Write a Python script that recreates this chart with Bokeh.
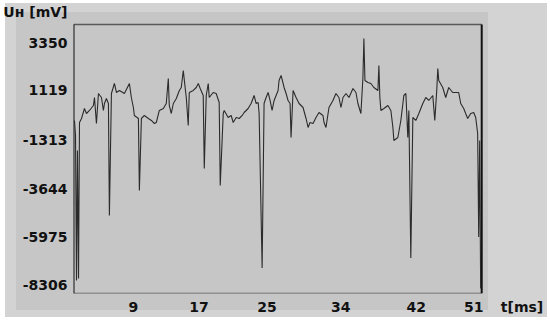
from bokeh.plotting import figure
from bokeh.models import FixedTicker, Range1d
from bokeh.embed import file_html
from bokeh.resources import INLINE

# time [ms]
t_ms = [1.73, 1.86, 1.98, 2.10, 2.23, 2.35, 2.60, 2.96, 3.21, 3.58, 4.07, 4.20, 4.44, 4.69, 5.06,
        5.30, 5.43, 5.67, 5.92, 6.04, 6.29, 6.66, 6.91, 7.28, 7.89, 8.51, 8.75, 9.00, 9.12, 9.62,
        9.74, 9.99, 10.35, 10.85, 11.22, 11.59, 11.83, 12.20, 12.70, 13.06, 13.31, 13.43, 13.68,
        13.93, 14.30, 14.67, 14.91, 15.16, 15.40, 15.53, 15.77, 15.90, 16.39, 16.76, 17.01, 17.25,
        17.62, 17.75, 17.99, 18.24, 18.36, 18.85, 19.22, 19.59, 19.72, 20.09, 20.21, 20.70, 21.07,
        21.32, 21.69, 22.06, 22.43, 22.67, 23.16, 23.53, 23.90, 24.15, 24.40, 24.52, 24.89, 25.13,
        25.38, 25.63, 25.87, 26.12, 26.37, 26.86, 26.98, 27.23, 27.48, 27.60, 27.85, 28.09, 28.34,
        28.46, 28.71, 29.08, 29.45, 29.94, 30.31, 30.56, 30.80, 31.17, 31.54, 31.91, 32.40, 32.53,
        32.77, 33.14, 33.63, 34.00, 34.37, 34.62, 34.87, 35.24, 35.61, 36.10, 36.47, 36.71, 37.08,
        37.33, 37.45, 37.58, 37.95, 38.31, 38.68, 39.18, 39.30, 39.42, 39.55, 39.92, 40.41, 40.78,
        41.03, 41.15, 41.64, 42.01, 42.38, 42.63, 42.87, 43.00, 43.24, 43.49, 43.86, 44.23, 44.72,
        45.09, 45.46, 45.95, 46.20, 46.44, 46.57, 46.69, 47.18, 47.55, 47.92, 48.41, 48.78, 49.15,
        49.40, 49.77, 50.01, 50.26, 50.63, 51.00, 51.25, 51.49, 51.62, 51.74, 51.86]

# Hall voltage U_H [mV]
u_mv = [-361, -1084, -8073, -1807, -7977, -458, -265, 217, -24, 121, 362, 747, -506, 940, 747,
        121, 458, 699, 458, -4940, 940, 1422, 988, 1085, 940, 1422, 747, 265, -120, -265,
        -3735, -265, -120, -265, -361, -506, -458, 121, 217, 458, 1663, 362, -24, 458,
        699, 1085, 1229, 2049, 1181, 747, -602, 988, 1085, 1229, 1422, 1181,
        844, -2675, 844, 1422, 747, 988, 940, 506, -3494, -24, 121, -217, -120,
        -458, -217, -265, -120, 24, 217, 458, 844, 458, 506, -24, -7475, 458,
        747, 988, 603, 121, 603, 1085, 1567, 1808, 1422, 1229, 940, 603, 458,
        -1181, 1085, 747, 458, 265, -265, -699, -458, -506, -217, 24, -120, -458,
        -699, 265, 603, 940, 747, 265, 747, 940, 747, 1181, 988, 458, -24,
        1711, 3591, 1567, 1470, 1422, 1229, 1085, 2290, 747, 121, 217, 362, 121,
        -699, -1325, -1181, -361, 844, 940, -1181, 121, -6993, -217, -361, -24, 458,
        747, 603, 844, -361, 1085, 2145, 1567, 1229, 747, 1229, 988, 988, 988,
        458, 217, -24, -265, -24, 24, -217, -988, -5981, -1325, -8459]

# axis ticks and titles (the titles sit on the tick-label lines, as in the original)
y_ticks = [3350, 1119, -1313, -3644, -5975, -8306]
y_tick_labels = ["3350", "1119", "-1313", "-3644", "-5975", "-8306"]
y_title, y_title_pos = "U\u029c [mV]", 4844
x_ticks = [9.0, 17.1, 25.5, 34.6, 43.9, 51.0]
x_tick_labels = ["9", "17", "25", "34", "42", "51"]
x_title, x_title_pos = "t[ms]", 56.97

# plotting box (data limits of the drawn frame)
T_START, T_END = 1.61, 51.99
U_BOTTOM, U_TOP = -8700, 4266

FONT = "DejaVu Sans"
INNER = "#c6c6c6"
OUTER = "#d3d3d3"

p = figure(width=550, height=322, output_backend="svg", toolbar_location=None,
           x_range=Range1d(T_START, 60.48), y_range=Range1d(U_BOTTOM, 5422),
           min_border_left=72, min_border_top=0, min_border_right=0, min_border_bottom=29,
           border_fill_color=None, background_fill_color=None, outline_line_color=None)
p.styles = {
    "background": (f"linear-gradient({INNER},{INNER}) 16px 12px / 472px 298px no-repeat, "
                   f"linear-gradient({OUTER},{OUTER}) 5px 3px / 542px 314px no-repeat, #ffffff")
}
p.grid.visible = False

# frame of the plotting box
p.segment(x0=[T_START, T_START], y0=[U_BOTTOM, U_TOP], x1=[T_END, T_END], y1=[U_BOTTOM, U_TOP],
          line_color="#5a5a5a", line_width=1.5)
p.segment(x0=[T_START, T_END], y0=[U_BOTTOM, U_BOTTOM], x1=[T_START, T_END], y1=[U_TOP, U_TOP],
          line_color="#111111", line_width=2)

p.line(t_ms, u_mv, line_color="#2b2b2b", line_width=1.1)

p.yaxis.ticker = FixedTicker(ticks=y_ticks + [y_title_pos])
p.yaxis.major_label_overrides = dict(zip(y_ticks + [y_title_pos], y_tick_labels + [y_title]))
p.xaxis.ticker = FixedTicker(ticks=x_ticks + [x_title_pos])
p.xaxis.major_label_overrides = dict(zip(x_ticks + [x_title_pos], x_tick_labels + [x_title]))

for ax in (p.xaxis[0], p.yaxis[0]):
    ax.axis_line_color = None
    ax.major_tick_line_color = None
    ax.minor_tick_line_color = None
    ax.major_tick_out = 0
    ax.major_tick_in = 0
    ax.major_label_text_font = FONT
    ax.major_label_text_font_style = "bold"
    ax.major_label_text_font_size = "14px"
    ax.major_label_text_color = "#111111"

p.yaxis.major_label_standoff = 6
p.xaxis.major_label_standoff = 5

open("out.html", "w").write(file_html(p, INLINE))
